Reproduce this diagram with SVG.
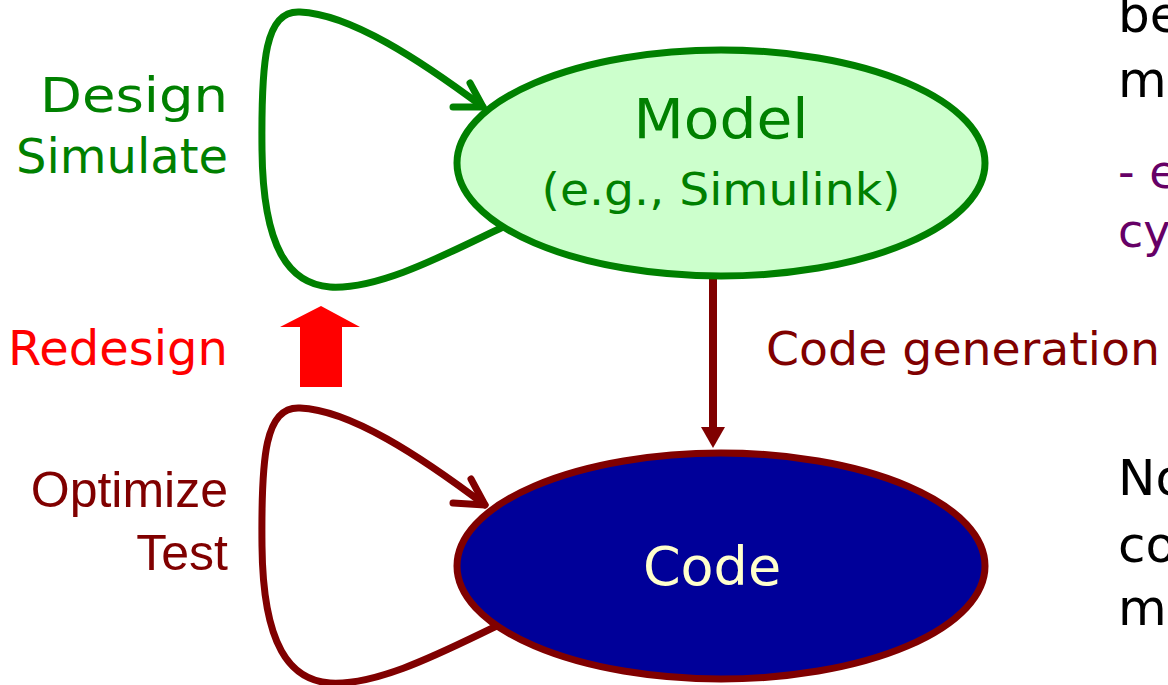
<svg xmlns="http://www.w3.org/2000/svg" width="1168" height="685" viewBox="0 0 1168 685">
<style>
.cs{font-family:"DejaVu Sans","Liberation Sans",sans-serif;}
.ar{font-family:"Liberation Sans",Arial,sans-serif;}
.loop{fill:none;stroke-width:7;stroke-linecap:round;stroke-linejoin:round;}
</style>
<rect width="1168" height="685" fill="#fff"/>
<g id="connectors">
  <path class="loop" stroke="#008000" d="M503,227 C450,252 380,290 330,287 C290,284 263,250 262,150 C261,60 265,10 300,12 C350,14 420,60 483,107"/>
  <polyline class="loop" stroke="#008000" points="470,83 483,107 453,107"/>
  <path class="loop" stroke="#800000" d="M503,623 C450,648 380,686 330,683 C290,680 263,646 262,546 C261,456 265,406 300,408 C350,410 420,456 485,505"/>
  <polyline class="loop" stroke="#800000" points="471,479 485,505 453,503"/>
  <line x1="713" y1="277" x2="713" y2="430" stroke="#800000" stroke-width="8"/>
  <polygon points="701,427 725,427 713,448" fill="#800000"/>
  <polygon id="redesign-arrow" points="321,306 360,327 342,327 342,387 300,387 300,327 280,327" fill="#FF0000"/>
</g>
<g id="model">
  <ellipse cx="721" cy="163" rx="264" ry="113" fill="#CCFFCC" stroke="#008000" stroke-width="7"/>
  <text class="cs" x="721" y="138" font-size="56" fill="#008000" text-anchor="middle" textLength="175" lengthAdjust="spacingAndGlyphs">Model</text>
  <text class="cs" x="721" y="205" font-size="45" fill="#008000" text-anchor="middle" textLength="359" lengthAdjust="spacingAndGlyphs">(e.g., Simulink)</text>
</g>
<g id="code">
  <ellipse cx="721" cy="566" rx="264" ry="113" fill="#000099" stroke="#800000" stroke-width="7"/>
  <text class="cs" x="712" y="585" font-size="54" fill="#FFFFCC" text-anchor="middle">Code</text>
</g>
<g id="labels">
  <text class="cs" x="228" y="112" font-size="48" fill="#008000" text-anchor="end" textLength="188" lengthAdjust="spacingAndGlyphs">Design</text>
  <text class="cs" x="228" y="173" font-size="48" fill="#008000" text-anchor="end">Simulate</text>
  <text class="cs" x="228" y="365" font-size="48" fill="#FF0000" text-anchor="end">Redesign</text>
  <text class="ar" x="228" y="507" font-size="50" fill="#800000" text-anchor="end">Optimize</text>
  <text class="ar" x="228" y="570" font-size="50" fill="#800000" text-anchor="end">Test</text>
  <text class="cs" x="766" y="365" font-size="47" fill="#800000" textLength="394" lengthAdjust="spacingAndGlyphs">Code generation</text>
</g>
<g id="side-text">
  <text class="cs" x="1118" y="32" font-size="50" fill="#000">be</text>
  <text class="cs" x="1118" y="97" font-size="50" fill="#000">mo</text>
  <text class="cs" x="1118" y="188" font-size="46" fill="#660066">- e</text>
  <text class="cs" x="1118" y="247" font-size="46" fill="#660066">cy</text>
  <text class="cs" x="1118" y="495" font-size="50" fill="#000">No</text>
  <text class="cs" x="1118" y="562" font-size="50" fill="#000">co</text>
  <text class="cs" x="1118" y="625" font-size="50" fill="#000">mo</text>
</g>
</svg>
